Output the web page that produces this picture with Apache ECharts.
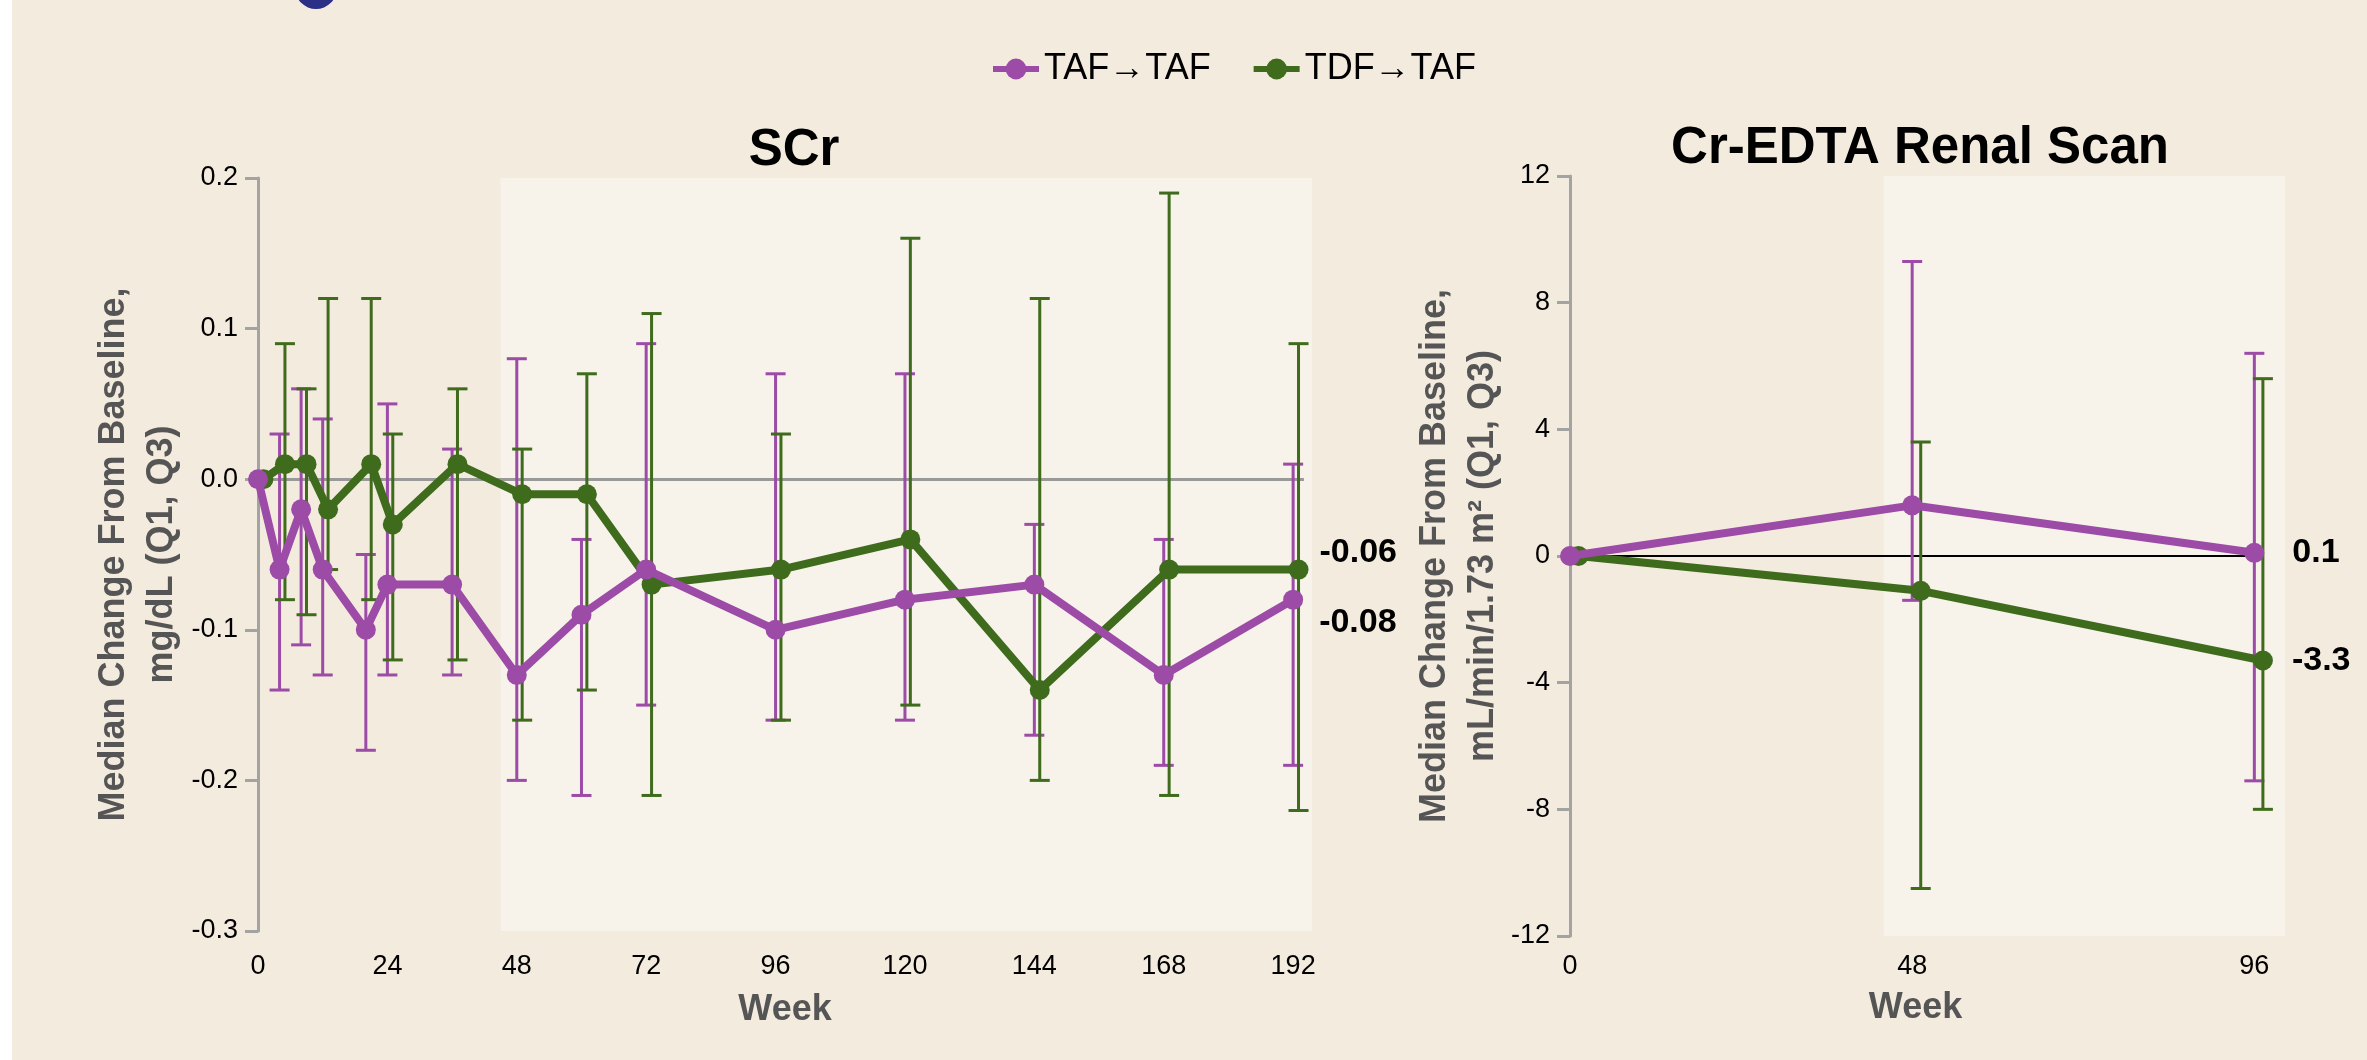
<!DOCTYPE html>
<html>
<head>
<meta charset="utf-8">
<script src="https://cdn.jsdelivr.net/npm/echarts@6/dist/echarts.min.js"></script>
<style>
html,body{margin:0;padding:0;background:#f4ebdf;}
#chart{width:2367px;height:1060px;}
</style>
</head>
<body>
<div id="chart"></div>
<script>
// ---------------- data ----------------
const seriesNames = ['TAF\u2192TAF', 'TDF\u2192TAF'];

// SCr panel
const scrWeeks = [0, 4, 8, 12, 20, 24, 36, 48, 60, 72, 96, 120, 144, 168, 192];
const scrTafMedian = [0, -0.06, -0.02, -0.06, -0.10, -0.07, -0.07, -0.13, -0.09, -0.06, -0.10, -0.08, -0.07, -0.13, -0.08];
const scrTafQ1 = [null, -0.14, -0.11, -0.13, -0.18, -0.13, -0.13, -0.20, -0.21, -0.15, -0.16, -0.16, -0.17, -0.19, -0.19];
const scrTafQ3 = [null, 0.03, 0.06, 0.04, -0.05, 0.05, 0.02, 0.08, -0.04, 0.09, 0.07, 0.07, -0.03, -0.04, 0.01];
const scrTdfMedian = [0, 0.01, 0.01, -0.02, 0.01, -0.03, 0.01, -0.01, -0.01, -0.07, -0.06, -0.04, -0.14, -0.06, -0.06];
const scrTdfQ1 = [null, -0.08, -0.09, -0.06, -0.08, -0.12, -0.12, -0.16, -0.14, -0.21, -0.16, -0.15, -0.20, -0.21, -0.22];
const scrTdfQ3 = [null, 0.09, 0.06, 0.12, 0.12, 0.03, 0.06, 0.02, 0.07, 0.11, 0.03, 0.16, 0.12, 0.19, 0.09];
const scrXTicks = [0, 24, 48, 72, 96, 120, 144, 168, 192];

// Cr-EDTA panel
const edtaWeeks = [0, 48, 96];
const edtaTafMedian = [0, 1.6, 0.1];
const edtaTafQ1 = [null, -1.4, -7.1];
const edtaTafQ3 = [null, 9.3, 6.4];
const edtaTdfMedian = [0, -1.1, -3.3];
const edtaTdfQ1 = [null, -10.5, -8.0];
const edtaTdfQ3 = [null, 3.6, 5.6];
const edtaXTicks = [0, 48, 96];

// ---------------- style ----------------
const PURPLE = '#9c4ba7';
const GREEN = '#3f6b1d';
const BG = '#f4ebdf';
const SHADE = '#f7f2ea';
const AXIS = '#a3a3a3';
const FONT = "'Liberation Sans', Arial, Helvetica, sans-serif";
const CAP = 20;

function errorBars(name, idx, color, weeks, q1, q3, dodge) {
  const data = [];
  weeks.forEach((w, i) => { if (q1[i] != null) data.push([w + dodge, q1[i], q3[i]]); });
  return {
    type: 'custom', name: name + ' IQR', xAxisIndex: idx, yAxisIndex: idx,
    data: data, z: 3, silent: true, clip: false,
    encode: { x: 0, y: [1, 2] },
    renderItem: function (params, api) {
      const x = api.value(0);
      const lo = api.coord([x, api.value(1)]);
      const hi = api.coord([x, api.value(2)]);
      const h = CAP / 2;
      const st = { stroke: color, lineWidth: 3, fill: null };
      return { type: 'group', children: [
        { type: 'line', shape: { x1: lo[0], y1: lo[1], x2: hi[0], y2: hi[1] }, style: st },
        { type: 'line', shape: { x1: lo[0] - h, y1: lo[1], x2: lo[0] + h, y2: lo[1] }, style: st },
        { type: 'line', shape: { x1: hi[0] - h, y1: hi[1], x2: hi[0] + h, y2: hi[1] }, style: st }
      ] };
    }
  };
}

function medianLine(name, idx, color, weeks, med, dodge, z, labelCfg, decimals) {
  const data = weeks.map((w, i) => {
    const item = { value: [w + dodge, med[i]] };
    if (i === weeks.length - 1) {
      item.label = {
        show: true, position: 'right', distance: labelCfg.distance, offset: labelCfg.offset,
        formatter: function () { return med[i].toFixed(decimals); },
        fontFamily: FONT, fontSize: 34, fontWeight: 'bold', color: '#000'
      };
    }
    return item;
  });
  return {
    type: 'line', name: name, xAxisIndex: idx, yAxisIndex: idx, data: data, z: z,
    symbol: 'circle', symbolSize: 20, showSymbol: true,
    lineStyle: { color: color, width: 8 }, itemStyle: { color: color },
    emphasis: { disabled: true }
  };
}

function xAxisCfg(idx, max, ticks, nameGap, namePad, labelMargin) {
  return {
    type: 'value', gridIndex: idx, min: 0, max: max,
    name: 'Week', nameLocation: 'middle', nameGap: nameGap,
    nameTextStyle: { fontFamily: FONT, fontSize: 36, fontWeight: 'bold', color: '#555', padding: namePad },
    axisLine: { show: false },
    axisTick: { show: true, length: 13, lineStyle: { color: AXIS, width: 3 }, customValues: ticks },
    axisLabel: { fontFamily: FONT, fontSize: 27, color: '#000', margin: labelMargin, customValues: ticks },
    splitLine: { show: false }
  };
}

function yAxisCfg(idx, min, max, interval, name, nameGap, fmt) {
  return {
    type: 'value', gridIndex: idx, min: min, max: max, interval: interval,
    name: name, nameLocation: 'middle', nameRotate: 90, nameGap: nameGap,
    nameTextStyle: { fontFamily: FONT, fontSize: 36, fontWeight: 'bold', color: '#555', lineHeight: 48, align: 'center' },
    axisLine: { show: true, lineStyle: { color: AXIS, width: 3 } },
    axisTick: { show: true, length: 13, lineStyle: { color: AXIS, width: 3 } },
    axisLabel: { fontFamily: FONT, fontSize: 27, color: '#000', margin: 20, formatter: fmt },
    splitLine: { show: false }
  };
}

// ---------------- build ----------------
const scrPurpleBars = errorBars(seriesNames[0], 0, PURPLE, scrWeeks, scrTafQ1, scrTafQ3, 0);
scrPurpleBars.markArea = { silent: true, z: 1, itemStyle: { color: SHADE },
  data: [[{ xAxis: 45, yAxis: -0.3 }, { xAxis: 195.5, yAxis: 0.2 }]] };
scrPurpleBars.markLine = { silent: true, z: 2, symbol: 'none', label: { show: false },
  lineStyle: { color: '#999', width: 3, type: 'solid' },
  data: [[{ coord: [0, 0] }, { coord: [194, 0] }]] };

const edtaPurpleBars = errorBars(seriesNames[0], 1, PURPLE, edtaWeeks, edtaTafQ1, edtaTafQ3, 0);
edtaPurpleBars.markArea = { silent: true, z: 1, itemStyle: { color: SHADE },
  data: [[{ xAxis: 44, yAxis: -12 }, { xAxis: 100.3, yAxis: 12 }]] };
edtaPurpleBars.markLine = { silent: true, z: 2, symbol: 'none', label: { show: false },
  lineStyle: { color: '#000', width: 2, type: 'solid' },
  data: [[{ coord: [0, 0] }, { coord: [96, 0] }]] };

const option = {
  animation: false,
  backgroundColor: BG,
  textStyle: { fontFamily: FONT },
  graphic: [
    { type: 'rect', left: 0, top: 0, shape: { width: 12, height: 1060 }, style: { fill: '#ffffff' }, silent: true },
    { type: 'circle', shape: { cx: 316, cy: -12, r: 21 }, style: { fill: '#2b2f86' }, silent: true }
  ],
  title: [
    { text: 'SCr', left: 789, top: 120, textAlign: 'center',
      textStyle: { fontFamily: FONT, fontSize: 51, fontWeight: 'bold', color: '#000' } },
    { text: 'Cr-EDTA Renal Scan', left: 1915, top: 118, textAlign: 'center',
      textStyle: { fontFamily: FONT, fontSize: 51, fontWeight: 'bold', color: '#000' } }
  ],
  legend: {
    data: seriesNames, left: 985, top: 46, itemWidth: 46, itemHeight: 26, itemGap: 40,
    lineStyle: { width: 6 },
    textStyle: { fontFamily: FONT, fontSize: 36, color: '#000' }
  },
  grid: [
    { left: 258, top: 178, width: 1054, height: 753 },
    { left: 1570, top: 176, width: 715, height: 760 }
  ],
  xAxis: [
    xAxisCfg(0, 195.5, scrXTicks, 61, [0, 0, 0, 0], 22),
    xAxisCfg(1, 100.3, edtaXTicks, 54, [0, 24, 0, 0], 17)
  ],
  yAxis: [
    yAxisCfg(0, -0.3, 0.2, 0.1, 'Median Change From Baseline,\nmg/dL (Q1, Q3)', 72,
      function (v) { return v.toFixed(1); }),
    yAxisCfg(1, -12, 12, 4, 'Median Change From Baseline,\nmL/min/1.73 m\u00b2 (Q1, Q3)', 49,
      function (v) { return String(Math.round(v)); })
  ],
  series: [
    scrPurpleBars,
    errorBars(seriesNames[1], 0, GREEN, scrWeeks, scrTdfQ1, scrTdfQ3, 1),
    medianLine(seriesNames[1], 0, GREEN, scrWeeks, scrTdfMedian, 1, 4, { distance: 11, offset: [0, -17] }, 2),
    medianLine(seriesNames[0], 0, PURPLE, scrWeeks, scrTafMedian, 0, 5, { distance: 16, offset: [0, 23] }, 2),
    edtaPurpleBars,
    errorBars(seriesNames[1], 1, GREEN, edtaWeeks, edtaTdfQ1, edtaTdfQ3, 1.2),
    medianLine(seriesNames[1], 1, GREEN, edtaWeeks, edtaTdfMedian, 1.2, 4, { distance: 19, offset: [0, 0] }, 1),
    medianLine(seriesNames[0], 1, PURPLE, edtaWeeks, edtaTafMedian, 0, 5, { distance: 28, offset: [0, 0] }, 1)
  ]
};

const chart = echarts.init(document.getElementById('chart'), null, { renderer: 'canvas' });
chart.setOption(option);
</script>
</body>
</html>
